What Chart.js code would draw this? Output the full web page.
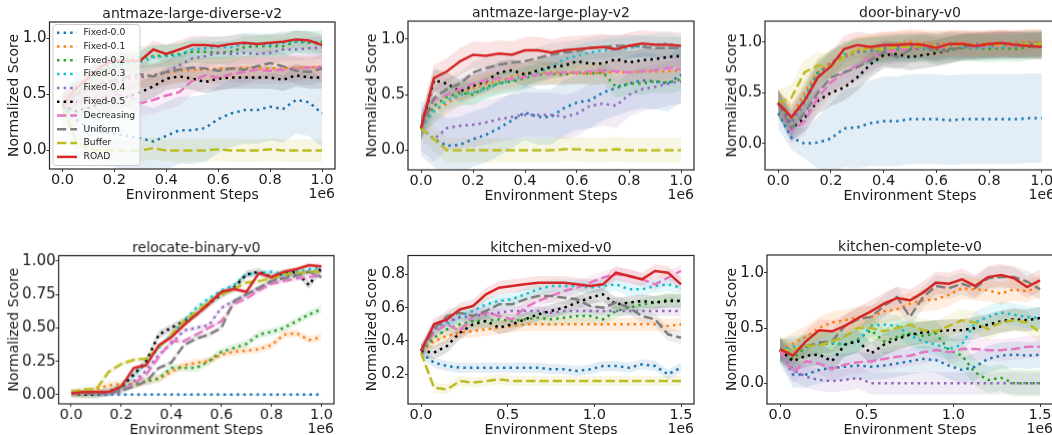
<!DOCTYPE html>
<html>
<head>
<meta charset="utf-8">
<script src="https://cdn.jsdelivr.net/npm/chart.js@4.4.0/dist/chart.umd.min.js"></script>
<style>
    body { margin: 0; background: #fff; width: 1052px; height: 435px; overflow: hidden; position: relative; }
    canvas { position: absolute; }
</style>
</head>
<body>
<script>
// series, in legend order
const seriesNames = ['Fixed-0.0', 'Fixed-0.1', 'Fixed-0.2', 'Fixed-0.3', 'Fixed-0.4', 'Fixed-0.5', 'Decreasing', 'Uniform', 'Buffer', 'ROAD'];
const seriesColors = ['#1f77b4', '#ff7f0e', '#2ca02c', '#17becf', '#9467bd', '#000000', '#e377c2', '#7f7f7f', '#bcbd22', '#d62728'];
const seriesStyles = ['dot', 'dot', 'dot', 'dot', 'dot', 'dot', 'dash', 'dash', 'dash', 'solid'];

// environment steps (x 1e6)
const stepsShort = [0, 0.05, 0.1, 0.15, 0.2, 0.25, 0.3, 0.35, 0.4, 0.45, 0.5, 0.55, 0.6, 0.65, 0.7, 0.75, 0.8, 0.85, 0.9, 0.95, 1.0];
const stepsLong = [0, 0.075, 0.15, 0.225, 0.3, 0.375, 0.45, 0.525, 0.6, 0.675, 0.75, 0.825, 0.9, 0.975, 1.05, 1.125, 1.2, 1.275, 1.35, 1.425, 1.5];

const xTicksShort = [0, 0.2, 0.4, 0.6, 0.8, 1.0];
const xTicksLong = [0, 0.5, 1.0, 1.5];
const yTicksHalf = [0, 0.5, 1.0];
const yTicksQuarter = [0, 0.25, 0.5, 0.75, 1.0];
const yTicksMixed = [0.2, 0.4, 0.6, 0.8];

// antmaze-large-diverse-v2
const diverseScores = [
    [0.40, 0.28, 0.20, 0.17, 0.15, 0.13, 0.11, 0.08, 0.13, 0.18, 0.18, 0.20, 0.28, 0.33, 0.36, 0.36, 0.39, 0.37, 0.45, 0.43, 0.33],
    [0.40, 0.50, 0.55, 0.60, 0.62, 0.64, 0.66, 0.67, 0.69, 0.71, 0.72, 0.72, 0.73, 0.73, 0.74, 0.73, 0.73, 0.73, 0.74, 0.74, 0.75],
    [0.40, 0.55, 0.65, 0.72, 0.78, 0.80, 0.83, 0.84, 0.85, 0.86, 0.88, 0.88, 0.87, 0.88, 0.92, 0.93, 0.93, 0.93, 0.97, 0.96, 0.97],
    [0.40, 0.55, 0.63, 0.70, 0.75, 0.78, 0.79, 0.83, 0.84, 0.85, 0.90, 0.91, 0.92, 0.92, 0.95, 0.95, 0.94, 0.96, 0.97, 0.97, 0.94],
    [0.40, 0.50, 0.55, 0.58, 0.60, 0.63, 0.65, 0.67, 0.70, 0.76, 0.82, 0.84, 0.87, 0.86, 0.87, 0.86, 0.87, 0.90, 0.90, 0.91, 0.92],
    [0.40, 0.35, 0.38, 0.42, 0.45, 0.48, 0.52, 0.57, 0.64, 0.66, 0.64, 0.61, 0.64, 0.65, 0.65, 0.65, 0.65, 0.63, 0.67, 0.65, 0.65],
    [0.40, 0.42, 0.45, 0.47, 0.50, 0.50, 0.42, 0.45, 0.49, 0.52, 0.62, 0.67, 0.65, 0.68, 0.70, 0.72, 0.71, 0.72, 0.73, 0.74, 0.74],
    [0.40, 0.50, 0.55, 0.60, 0.63, 0.66, 0.68, 0.66, 0.70, 0.72, 0.74, 0.73, 0.71, 0.73, 0.72, 0.75, 0.78, 0.75, 0.71, 0.70, 0.73],
    [0.38, 0.10, 0.01, 0.00, 0.00, 0.00, 0.00, 0.02, 0.00, 0.00, 0.00, 0.00, 0.01, 0.00, 0.00, 0.00, 0.01, 0.00, 0.00, 0.00, 0.00],
    [0.40, 0.55, 0.65, 0.75, 0.80, 0.80, 0.80, 0.90, 0.86, 0.90, 0.94, 0.94, 0.93, 0.95, 0.96, 0.95, 0.96, 0.97, 0.99, 0.98, 0.94]
];
const diverseSpread = [0.3, 0.1, 0.1, 0.1, 0.1, 0.1, 0.12, 0.12, 0.1, 0.08];

// antmaze-large-play-v2
const playScores = [
    [0.20, 0.10, 0.04, 0.05, 0.10, 0.14, 0.20, 0.27, 0.34, 0.30, 0.30, 0.38, 0.43, 0.45, 0.52, 0.56, 0.60, 0.63, 0.62, 0.60, 0.68],
    [0.20, 0.35, 0.42, 0.50, 0.56, 0.60, 0.62, 0.66, 0.69, 0.70, 0.70, 0.70, 0.69, 0.69, 0.70, 0.70, 0.70, 0.71, 0.71, 0.71, 0.72],
    [0.20, 0.40, 0.48, 0.52, 0.50, 0.57, 0.60, 0.62, 0.65, 0.68, 0.69, 0.68, 0.70, 0.69, 0.70, 0.57, 0.60, 0.60, 0.62, 0.61, 0.64],
    [0.20, 0.35, 0.45, 0.50, 0.52, 0.55, 0.60, 0.63, 0.67, 0.70, 0.75, 0.82, 0.85, 0.88, 0.90, 0.91, 0.92, 0.94, 0.95, 0.96, 0.93],
    [0.20, 0.10, 0.20, 0.22, 0.23, 0.25, 0.28, 0.30, 0.32, 0.32, 0.32, 0.30, 0.33, 0.40, 0.42, 0.40, 0.50, 0.55, 0.57, 0.60, 0.62],
    [0.20, 0.63, 0.60, 0.53, 0.58, 0.62, 0.70, 0.72, 0.68, 0.72, 0.75, 0.76, 0.80, 0.78, 0.78, 0.82, 0.79, 0.81, 0.82, 0.84, 0.85],
    [0.20, 0.45, 0.50, 0.55, 0.60, 0.63, 0.65, 0.64, 0.66, 0.68, 0.69, 0.70, 0.70, 0.71, 0.72, 0.71, 0.70, 0.71, 0.72, 0.74, 0.73],
    [0.20, 0.47, 0.55, 0.60, 0.70, 0.74, 0.77, 0.79, 0.80, 0.83, 0.86, 0.88, 0.89, 0.92, 0.93, 0.94, 0.94, 0.93, 0.92, 0.92, 0.92],
    [0.20, 0.10, 0.00, 0.00, 0.00, 0.00, 0.00, 0.00, 0.00, 0.00, 0.00, 0.01, 0.01, 0.00, 0.00, 0.01, 0.00, 0.00, 0.00, 0.00, 0.00],
    [0.20, 0.65, 0.71, 0.80, 0.86, 0.85, 0.87, 0.86, 0.90, 0.90, 0.88, 0.90, 0.91, 0.92, 0.93, 0.91, 0.94, 0.96, 0.95, 0.95, 0.94]
];
const playSpread = [0.25, 0.1, 0.1, 0.1, 0.2, 0.1, 0.1, 0.1, 0.11, 0.12];

// door-binary-v0
const doorScores = [
    [0.30, 0.06, 0.00, 0.01, 0.05, 0.15, 0.16, 0.20, 0.22, 0.22, 0.24, 0.24, 0.24, 0.23, 0.24, 0.24, 0.24, 0.24, 0.24, 0.25, 0.25],
    [0.40, 0.25, 0.50, 0.70, 0.80, 0.87, 0.92, 0.94, 0.96, 0.98, 1.00, 0.99, 0.98, 0.99, 0.99, 0.98, 0.99, 0.99, 0.99, 1.00, 1.00],
    [0.40, 0.20, 0.45, 0.70, 0.78, 0.85, 0.90, 0.91, 0.92, 0.93, 0.93, 0.93, 0.92, 0.93, 0.94, 0.94, 0.93, 0.94, 0.93, 0.95, 0.97],
    [0.40, 0.20, 0.45, 0.68, 0.78, 0.88, 0.90, 0.91, 0.93, 0.94, 0.95, 0.94, 0.95, 0.96, 0.95, 0.94, 0.95, 0.95, 0.96, 0.96, 0.97],
    [0.40, 0.20, 0.40, 0.65, 0.80, 0.85, 0.90, 0.92, 0.94, 0.95, 0.96, 0.96, 0.97, 0.97, 0.97, 0.98, 0.97, 0.98, 0.98, 0.99, 0.99],
    [0.40, 0.15, 0.25, 0.42, 0.50, 0.55, 0.65, 0.78, 0.87, 0.88, 0.85, 0.87, 0.89, 0.92, 0.95, 0.96, 0.96, 0.97, 0.97, 0.97, 0.97],
    [0.40, 0.12, 0.22, 0.45, 0.60, 0.70, 0.77, 0.85, 0.90, 0.92, 0.93, 0.94, 0.94, 0.95, 0.95, 0.95, 0.96, 0.96, 0.96, 0.96, 0.96],
    [0.40, 0.15, 0.30, 0.50, 0.65, 0.70, 0.75, 0.82, 0.90, 0.85, 0.92, 0.96, 0.90, 0.92, 0.95, 0.96, 0.97, 0.97, 0.97, 0.98, 0.98],
    [0.40, 0.45, 0.70, 0.77, 0.76, 0.85, 0.92, 0.93, 0.93, 0.95, 0.95, 0.96, 0.96, 0.96, 0.97, 0.97, 0.97, 0.97, 0.97, 0.98, 0.98],
    [0.40, 0.26, 0.42, 0.65, 0.76, 0.93, 0.97, 0.95, 0.97, 0.97, 0.98, 0.97, 0.94, 0.98, 0.98, 0.96, 0.98, 0.99, 0.97, 0.96, 0.95]
];
const doorSpread = [
    [0.15, 0.12, 0.15, 0.25, 0.35, 0.38, 0.40, 0.42, 0.44, 0.44, 0.44, 0.44, 0.44, 0.44, 0.44, 0.44, 0.44, 0.44, 0.44, 0.44, 0.44],
    0.13, 0.13, 0.13, 0.13, 0.13, 0.13, 0.13, 0.13, 0.13
];

// relocate-binary-v0
const relocateScores = [
    [0.01, 0.01, 0.00, 0.00, 0.00, 0.00, 0.00, 0.00, 0.00, 0.00, 0.00, 0.00, 0.00, 0.00, 0.00, 0.00, 0.00, 0.00, 0.00, 0.00, 0.00],
    [0.01, 0.01, 0.04, 0.07, 0.08, 0.08, 0.10, 0.12, 0.17, 0.22, 0.24, 0.25, 0.30, 0.32, 0.33, 0.34, 0.37, 0.45, 0.46, 0.41, 0.43],
    [0.01, 0.01, 0.01, 0.02, 0.05, 0.08, 0.10, 0.12, 0.20, 0.20, 0.20, 0.25, 0.32, 0.35, 0.38, 0.45, 0.47, 0.50, 0.55, 0.60, 0.64],
    [0.01, 0.01, 0.01, 0.01, 0.05, 0.15, 0.23, 0.35, 0.45, 0.55, 0.65, 0.72, 0.78, 0.82, 0.90, 0.91, 0.92, 0.90, 0.92, 0.94, 0.95],
    [0.01, 0.01, 0.01, 0.01, 0.02, 0.10, 0.18, 0.30, 0.38, 0.48, 0.50, 0.52, 0.65, 0.70, 0.75, 0.80, 0.85, 0.88, 0.90, 0.92, 0.93],
    [0.01, 0.00, 0.00, 0.02, 0.06, 0.15, 0.25, 0.45, 0.50, 0.55, 0.60, 0.68, 0.75, 0.80, 0.90, 0.92, 0.88, 0.91, 0.92, 0.82, 0.95],
    [0.01, 0.01, 0.01, 0.01, 0.03, 0.08, 0.15, 0.28, 0.40, 0.40, 0.45, 0.50, 0.55, 0.68, 0.72, 0.78, 0.83, 0.85, 0.87, 0.88, 0.90],
    [0.01, 0.01, 0.01, 0.01, 0.03, 0.06, 0.10, 0.20, 0.24, 0.37, 0.42, 0.45, 0.50, 0.70, 0.75, 0.80, 0.85, 0.87, 0.89, 0.92, 0.88],
    [0.02, 0.04, 0.04, 0.17, 0.23, 0.26, 0.27, 0.35, 0.45, 0.55, 0.62, 0.70, 0.75, 0.79, 0.84, 0.85, 0.87, 0.90, 0.91, 0.92, 0.92],
    [0.01, 0.02, 0.02, 0.02, 0.06, 0.20, 0.22, 0.37, 0.43, 0.52, 0.60, 0.68, 0.77, 0.79, 0.77, 0.91, 0.88, 0.92, 0.94, 0.97, 0.96]
];
const relocateSpread = [0.005, 0.03, 0.03, 0.02, 0.02, 0.03, 0.02, 0.02, 0.02, 0.02];

// kitchen-mixed-v0
const mixedScores = [
    [0.33, 0.27, 0.25, 0.24, 0.24, 0.24, 0.24, 0.24, 0.24, 0.24, 0.23, 0.23, 0.22, 0.23, 0.25, 0.25, 0.24, 0.26, 0.25, 0.20, 0.24],
    [0.34, 0.40, 0.43, 0.45, 0.46, 0.47, 0.48, 0.49, 0.50, 0.50, 0.50, 0.50, 0.50, 0.50, 0.50, 0.50, 0.50, 0.50, 0.50, 0.49, 0.50],
    [0.34, 0.42, 0.47, 0.50, 0.52, 0.52, 0.53, 0.52, 0.53, 0.54, 0.53, 0.54, 0.55, 0.55, 0.53, 0.58, 0.60, 0.62, 0.63, 0.65, 0.64],
    [0.34, 0.47, 0.50, 0.55, 0.58, 0.62, 0.64, 0.65, 0.68, 0.71, 0.73, 0.73, 0.73, 0.72, 0.73, 0.74, 0.71, 0.71, 0.73, 0.74, 0.72],
    [0.34, 0.48, 0.52, 0.54, 0.55, 0.56, 0.57, 0.58, 0.58, 0.58, 0.57, 0.58, 0.58, 0.58, 0.58, 0.58, 0.58, 0.58, 0.58, 0.58, 0.58],
    [0.34, 0.33, 0.37, 0.45, 0.50, 0.52, 0.48, 0.50, 0.53, 0.56, 0.58, 0.60, 0.63, 0.66, 0.68, 0.62, 0.63, 0.64, 0.63, 0.64, 0.64],
    [0.34, 0.45, 0.50, 0.46, 0.55, 0.57, 0.55, 0.53, 0.60, 0.64, 0.67, 0.70, 0.72, 0.75, 0.78, 0.80, 0.79, 0.77, 0.74, 0.78, 0.82],
    [0.34, 0.47, 0.55, 0.57, 0.55, 0.58, 0.62, 0.62, 0.65, 0.67, 0.67, 0.66, 0.65, 0.61, 0.60, 0.63, 0.60, 0.55, 0.53, 0.44, 0.42],
    [0.33, 0.12, 0.11, 0.16, 0.15, 0.16, 0.17, 0.16, 0.16, 0.16, 0.16, 0.16, 0.16, 0.16, 0.16, 0.16, 0.16, 0.16, 0.16, 0.16, 0.16],
    [0.34, 0.50, 0.53, 0.59, 0.61, 0.68, 0.72, 0.73, 0.74, 0.75, 0.75, 0.75, 0.74, 0.73, 0.74, 0.81, 0.79, 0.77, 0.82, 0.81, 0.74]
];
const mixedSpread = [0.03, 0.04, 0.04, 0.04, 0.03, 0.04, 0.04, 0.04, 0.03, 0.04];

// kitchen-complete-v0
const completeScores = [
    [0.30, 0.08, 0.08, 0.12, 0.14, 0.15, 0.16, 0.15, 0.16, 0.18, 0.20, 0.22, 0.21, 0.16, 0.12, 0.15, 0.22, 0.25, 0.26, 0.25, 0.26],
    [0.30, 0.36, 0.42, 0.50, 0.55, 0.57, 0.60, 0.60, 0.65, 0.67, 0.72, 0.75, 0.76, 0.80, 0.86, 0.85, 0.84, 0.81, 0.85, 0.83, 0.88],
    [0.30, 0.22, 0.33, 0.35, 0.36, 0.35, 0.40, 0.48, 0.38, 0.42, 0.45, 0.43, 0.45, 0.30, 0.25, 0.10, 0.03, 0.05, 0.00, 0.00, 0.00],
    [0.30, 0.33, 0.34, 0.36, 0.37, 0.35, 0.38, 0.52, 0.53, 0.52, 0.43, 0.38, 0.35, 0.31, 0.35, 0.55, 0.60, 0.64, 0.62, 0.60, 0.59],
    [0.30, 0.12, 0.06, 0.03, 0.02, 0.03, 0.05, 0.00, 0.00, 0.00, 0.00, 0.00, 0.00, 0.00, 0.00, 0.00, 0.00, 0.00, 0.00, 0.00, 0.00],
    [0.30, 0.20, 0.25, 0.26, 0.20, 0.35, 0.38, 0.27, 0.35, 0.40, 0.44, 0.46, 0.47, 0.48, 0.48, 0.50, 0.53, 0.56, 0.58, 0.57, 0.59],
    [0.30, 0.10, 0.20, 0.18, 0.13, 0.17, 0.19, 0.20, 0.22, 0.24, 0.25, 0.28, 0.30, 0.28, 0.31, 0.31, 0.30, 0.30, 0.31, 0.33, 0.33],
    [0.30, 0.30, 0.33, 0.37, 0.38, 0.52, 0.58, 0.60, 0.70, 0.78, 0.60, 0.78, 0.88, 0.86, 0.90, 0.86, 0.95, 0.96, 0.96, 0.92, 0.85],
    [0.30, 0.30, 0.34, 0.34, 0.38, 0.42, 0.50, 0.50, 0.47, 0.50, 0.53, 0.48, 0.47, 0.52, 0.57, 0.55, 0.49, 0.55, 0.57, 0.55, 0.46],
    [0.31, 0.25, 0.38, 0.48, 0.47, 0.52, 0.59, 0.65, 0.72, 0.77, 0.75, 0.82, 0.91, 0.90, 0.94, 0.88, 0.96, 0.98, 0.95, 0.87, 0.93]
];
const completeSpread = [0.12, 0.1, 0.12, 0.1, 0.1, 0.1, 0.1, 0.1, 0.1, 0.1];

Chart.defaults.font.family = '"DejaVu Sans", sans-serif';
Chart.defaults.color = '#1a1a1a';

function withAlpha(hex, a) {
    const n = parseInt(hex.slice(1), 16);
    return `rgba(${(n >> 16) & 255}, ${(n >> 8) & 255}, ${n & 255}, ${a})`;
}

function dashFor(style) {
    if (style === 'dot') return [2.5, 4.1];
    if (style === 'dash') return [9.25, 4];
    return [];
}

// frame round the axes, plus the "1e6" offset text
const framePlugin = {
    id: 'frame',
    afterDraw(chart, args, opts) {
        const {ctx, chartArea: a} = chart;
        ctx.save();
        ctx.strokeStyle = '#262626';
        ctx.lineWidth = 1.2;
        ctx.strokeRect(a.left, a.top, a.right - a.left, a.bottom - a.top);
        ctx.fillStyle = '#1a1a1a';
        ctx.font = '14px "DejaVu Sans"';
        ctx.textAlign = 'right';
        ctx.textBaseline = 'middle';
        ctx.fillText('1e6', Math.min(a.right, opts.offsetRight), a.bottom + 25);
        ctx.restore();
    }
};

// matplotlib-style legend box inside the first panel
const boxLegendPlugin = {
    id: 'boxLegend',
    afterDatasetsDraw(chart, args, opts) {
        if (!opts.show) return;
        const {ctx, chartArea: a} = chart;
        const x0 = a.left + 3.5, y0 = a.top + 2.5;
        ctx.save();
        ctx.beginPath();
        ctx.roundRect(x0, y0, 87, 141, 3);
        ctx.fillStyle = 'rgba(255,255,255,0.8)';
        ctx.fill();
        ctx.strokeStyle = '#cccccc';
        ctx.lineWidth = 1;
        ctx.stroke();
        ctx.font = '9.2px "DejaVu Sans"';
        ctx.textBaseline = 'middle';
        ctx.textAlign = 'left';
        seriesNames.forEach((name, k) => {
            const y = a.top + 10.7 + k * 13.8;
            ctx.beginPath();
            ctx.setLineDash(dashFor(seriesStyles[k]));
            ctx.strokeStyle = seriesColors[k];
            ctx.lineWidth = 2.5;
            ctx.moveTo(a.left + 7.5, y);
            ctx.lineTo(a.left + 27.5, y);
            ctx.stroke();
            ctx.setLineDash([]);
            ctx.fillStyle = '#1a1a1a';
            ctx.fillText(name, a.left + 34, y);
        });
        ctx.restore();
    }
};

const panels = [
    {title: 'antmaze-large-diverse-v2', steps: stepsShort, scores: diverseScores, spread: diverseSpread,
     xMin: -0.05, xMax: 1.05, xTicks: xTicksShort, yMin: -0.165, yMax: 1.145, yTicks: yTicksHalf, yDigits: 1,
     left: 0, top: 0, box: [49.5, 22, 335, 169], yTitleX: 14.5, legend: true},
    {title: 'antmaze-large-play-v2', steps: stepsShort, scores: playScores, spread: playSpread,
     xMin: -0.05, xMax: 1.05, xTicks: xTicksShort, yMin: -0.176, yMax: 1.162, yTicks: yTicksHalf, yDigits: 1,
     left: 357, top: 0, box: [408, 21, 694, 169.5], yTitleX: 372.5},
    {title: 'door-binary-v0', steps: stepsShort, scores: doorScores, spread: doorSpread,
     xMin: -0.05, xMax: 1.05, xTicks: xTicksShort, yMin: -0.258, yMax: 1.204, yTicks: yTicksHalf, yDigits: 1,
     left: 715, top: 0, box: [765, 21, 1055, 169.5], yTitleX: 732.5},
    {title: 'relocate-binary-v0', steps: stepsShort, scores: relocateScores, spread: relocateSpread,
     xMin: -0.05, xMax: 1.05, xTicks: xTicksShort, yMin: -0.069, yMax: 1.041, yTicks: yTicksQuarter, yDigits: 2,
     left: 0, top: 230, box: [58.5, 255.5, 333.5, 403.5], yTitleX: 14},
    {title: 'kitchen-mixed-v0', steps: stepsLong, scores: mixedScores, spread: mixedSpread,
     xMin: -0.075, xMax: 1.575, xTicks: xTicksLong, yMin: 0.022, yMax: 0.913, yTicks: yTicksMixed, yDigits: 1,
     left: 357, top: 230, box: [408, 255.5, 694, 404], yTitleX: 372.5},
    {title: 'kitchen-complete-v0', steps: stepsLong, scores: completeScores, spread: completeSpread,
     xMin: -0.075, xMax: 1.575, xTicks: xTicksLong, yMin: -0.187, yMax: 1.16, yTicks: yTicksHalf, yDigits: 1,
     left: 715, top: 230, box: [767, 255, 1053, 404], yTitleX: 732.5}
];

function buildDatasets(p) {
    const datasets = [];
    // mean lines, ROAD first so it ends up on top
    for (let k = seriesNames.length - 1; k >= 0; k--) {
        datasets.push({
            label: seriesNames[k],
            data: p.steps.map((x, i) => ({x: x, y: p.scores[k][i]})),
            borderColor: seriesColors[k],
            borderWidth: 2.5,
            borderDash: dashFor(seriesStyles[k]),
            pointRadius: 0,
            fill: false,
            tension: 0
        });
    }
    // shaded bands below everything
    for (let k = 0; k < seriesNames.length; k++) {
        const s = p.spread[k];
        const sd = i => Array.isArray(s) ? s[i] : s;
        datasets.push({
            label: seriesNames[k] + ' low',
            data: p.steps.map((x, i) => ({x: x, y: p.scores[k][i] - sd(i)})),
            borderColor: 'transparent',
            borderWidth: 0,
            pointRadius: 0,
            fill: false
        });
        datasets.push({
            label: seriesNames[k] + ' high',
            data: p.steps.map((x, i) => ({x: x, y: p.scores[k][i] + sd(i)})),
            borderColor: 'transparent',
            borderWidth: 0,
            pointRadius: 0,
            backgroundColor: withAlpha(seriesColors[k], 0.13),
            fill: '-1'
        });
    }
    return datasets;
}

panels.forEach(function(p) {
    const [bl, bt, br, bb] = p.box;
    const canvas = document.createElement('canvas');
    const w = br - p.left + 20;
    const h = bb - p.top + 35;
    canvas.width = w;
    canvas.height = h;
    canvas.style.left = p.left + 'px';
    canvas.style.top = p.top + 'px';
    canvas.style.width = w + 'px';
    canvas.style.height = h + 'px';
    document.body.appendChild(canvas);

    const yAxisWidth = bl - p.left;
    const titleSpace = bt - p.top;

    new Chart(canvas.getContext('2d'), {
        type: 'line',
        data: {datasets: buildDatasets(p)},
        plugins: [framePlugin, boxLegendPlugin],
        options: {
            responsive: false,
            devicePixelRatio: 1,
            animation: false,
            events: [],
            layout: {padding: {left: 0, right: 20, top: 0, bottom: 0}},
            plugins: {
                legend: {display: false},
                tooltip: {enabled: false},
                title: {
                    display: true,
                    text: p.title,
                    fullSize: false,
                    color: '#1a1a1a',
                    font: {size: 14, weight: 'normal', lineHeight: 1},
                    padding: {top: titleSpace - 14.5, bottom: 0.5}
                },
                frame: {offsetRight: 1050},
                boxLegend: {show: !!p.legend}
            },
            scales: {
                x: {
                    type: 'linear',
                    min: p.xMin,
                    max: p.xMax,
                    afterBuildTicks: s => { s.ticks = p.xTicks.map(v => ({value: v})); },
                    afterFit: s => { s.height = 35; s.paddingLeft = 0; s.paddingRight = 0; },
                    grid: {display: true, drawOnChartArea: false, drawTicks: true, tickLength: 3, color: '#333'},
                    border: {display: false},
                    ticks: {
                        autoSkip: false, maxRotation: 0, padding: 0, color: '#1a1a1a',
                        font: {size: 14.5},
                        callback: v => Number(v).toFixed(1)
                    },
                    title: {display: true, text: 'Environment Steps', color: '#1a1a1a', font: {size: 14}, padding: {top: 0, bottom: 0.5}}
                },
                y: {
                    min: p.yMin,
                    max: p.yMax,
                    afterBuildTicks: s => { s.ticks = p.yTicks.map(v => ({value: v})); },
                    afterFit: s => { s.width = yAxisWidth; s.paddingTop = 0; s.paddingBottom = 0; },
                    grid: {display: true, drawOnChartArea: false, drawTicks: true, tickLength: 3, color: '#333'},
                    border: {display: false},
                    ticks: {
                        autoSkip: false, padding: 0, color: '#1a1a1a',
                        font: {size: 15},
                        callback: v => Number(v).toFixed(p.yDigits)
                    },
                    title: {display: true, text: 'Normalized Score', color: '#1a1a1a', font: {size: 14}, padding: {top: p.yTitleX - p.left - 8.4, bottom: 0}}
                }
            }
        }
    });
});
</script>
</body>
</html>
